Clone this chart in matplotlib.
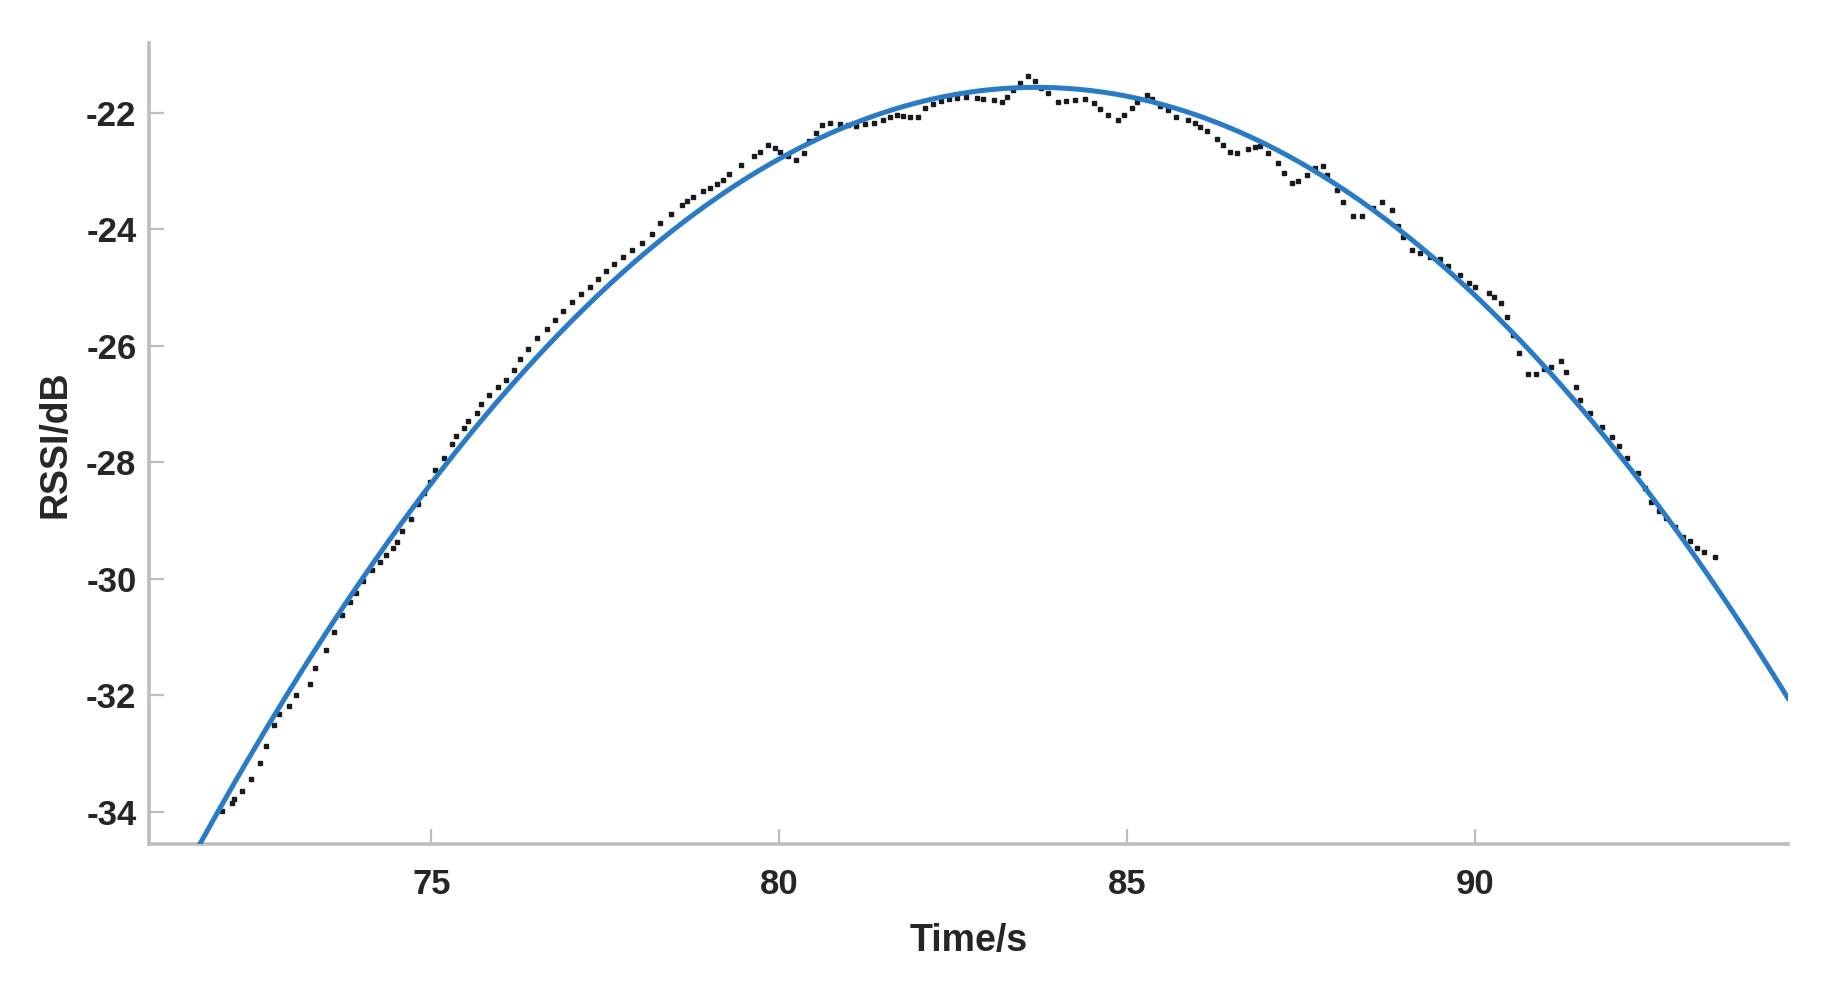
import numpy as np
import matplotlib
import matplotlib.pyplot as plt

matplotlib.use('Agg')

plt.rcParams['font.family'] = ['Liberation Sans', 'DejaVu Sans']
plt.rcParams['font.weight'] = 'bold'
plt.rcParams['axes.unicode_minus'] = False

time_s = [
    71.99, 72.13, 72.16, 72.28, 72.40, 72.53, 72.62, 72.73, 72.81, 72.95,
    73.06, 73.26, 73.32, 73.48, 73.60, 73.71, 73.83, 73.92, 74.02, 74.14,
    74.26, 74.35, 74.45, 74.51, 74.58, 74.70, 74.81, 74.89, 74.98, 75.05,
    75.18, 75.30, 75.36, 75.47, 75.53, 75.65, 75.71, 75.83, 75.96, 76.07,
    76.18, 76.28, 76.39, 76.52, 76.66, 76.77, 76.89, 77.02, 77.15, 77.28,
    77.40, 77.51, 77.63, 77.76, 77.89, 78.02, 78.17, 78.28, 78.44, 78.60,
    78.67, 78.76, 78.91, 79.01, 79.10, 79.19, 79.28, 79.45, 79.63, 79.72,
    79.84, 79.94, 80.01, 80.12, 80.24, 80.35, 80.43, 80.53, 80.61, 80.73,
    80.87, 80.99, 81.11, 81.23, 81.36, 81.49, 81.59, 81.69, 81.78, 81.88,
    82.00, 82.09, 82.21, 82.33, 82.44, 82.55, 82.69, 82.84, 82.93, 83.08,
    83.20, 83.27, 83.36, 83.46, 83.58, 83.68, 83.76, 83.87, 84.01, 84.12,
    84.25, 84.40, 84.52, 84.61, 84.73, 84.87, 84.95, 85.07, 85.14, 85.28,
    85.36, 85.48, 85.59, 85.71, 85.88, 85.98, 86.05, 86.15, 86.29, 86.38,
    86.48, 86.58, 86.74, 86.84, 86.91, 87.03, 87.17, 87.26, 87.37, 87.46,
    87.58, 87.70, 87.82, 87.87, 88.02, 88.11, 88.25, 88.37, 88.54, 88.66,
    88.81, 88.90, 88.97, 89.09, 89.21, 89.36, 89.50, 89.62, 89.79, 89.91,
    90.00, 90.20, 90.27, 90.37, 90.46, 90.55, 90.64, 90.76, 90.88, 90.99,
    91.10, 91.24, 91.31, 91.45, 91.51, 91.66, 91.82, 91.97, 92.07, 92.19,
    92.34, 92.44, 92.53, 92.65, 92.75, 92.87, 92.99, 93.09, 93.19, 93.29,
    93.45,
]
rssi_db = [
    -33.99, -33.86, -33.79, -33.65, -33.44, -33.17, -32.87, -32.52, -32.33, -32.19,
    -32.00, -31.81, -31.53, -31.23, -30.92, -30.62, -30.41, -30.24, -30.04, -29.85,
    -29.71, -29.60, -29.48, -29.37, -29.18, -28.97, -28.72, -28.53, -28.34, -28.14,
    -27.93, -27.69, -27.55, -27.42, -27.29, -27.15, -27.00, -26.85, -26.71, -26.59,
    -26.42, -26.23, -26.05, -25.86, -25.71, -25.56, -25.40, -25.25, -25.12, -24.99,
    -24.85, -24.72, -24.59, -24.47, -24.36, -24.24, -24.09, -23.90, -23.74, -23.58,
    -23.51, -23.45, -23.35, -23.30, -23.23, -23.15, -23.05, -22.90, -22.75, -22.67,
    -22.55, -22.61, -22.67, -22.74, -22.81, -22.69, -22.49, -22.35, -22.21, -22.17,
    -22.20, -22.21, -22.23, -22.19, -22.17, -22.12, -22.08, -22.04, -22.05, -22.07,
    -22.07, -21.92, -21.85, -21.80, -21.76, -21.75, -21.73, -21.75, -21.77, -21.78,
    -21.81, -21.73, -21.61, -21.49, -21.37, -21.45, -21.57, -21.66, -21.82, -21.79,
    -21.78, -21.77, -21.84, -21.94, -22.04, -22.13, -22.04, -21.92, -21.81, -21.69,
    -21.77, -21.89, -21.95, -22.07, -22.12, -22.18, -22.24, -22.32, -22.45, -22.55,
    -22.68, -22.69, -22.63, -22.59, -22.57, -22.69, -22.87, -23.03, -23.20, -23.17,
    -23.07, -22.95, -22.92, -23.07, -23.32, -23.53, -23.78, -23.78, -23.64, -23.53,
    -23.67, -23.94, -24.13, -24.36, -24.41, -24.47, -24.52, -24.64, -24.79, -24.93,
    -24.99, -25.09, -25.16, -25.27, -25.50, -25.82, -26.13, -26.49, -26.49, -26.40,
    -26.36, -26.26, -26.45, -26.71, -26.93, -27.16, -27.39, -27.57, -27.72, -27.93,
    -28.19, -28.45, -28.69, -28.84, -28.96, -29.12, -29.28, -29.35, -29.48, -29.54,
    -29.63,
]

x_ticks = [75, 80, 85, 90]
y_ticks = [-34, -32, -30, -28, -26, -24, -22]
x_range = (70.94, 94.5)
y_range = (-34.56, -20.81)

text_col = '#262626'
axis_col = '#bdbdbd'

fig = plt.figure(figsize=(18.44, 9.99), dpi=100)
ax = fig.add_axes([0.0808, 0.155, 0.8888, 0.8015])

# quadratic fit of the samples
coef = np.polyfit(time_s, rssi_db, 2)
t_fit = np.linspace(x_range[0], x_range[1], 400)
ax.plot(t_fit, np.polyval(coef, t_fit), color='#2a7bc6', lw=3.6, zorder=3)
ax.plot(time_s, rssi_db, ls='none', marker='s', ms=2.4, color='#1a1a1a', zorder=2)

ax.set_xlim(*x_range)
ax.set_ylim(*y_range)
ax.set_xticks(x_ticks)
ax.set_yticks(y_ticks)

for side in ['top', 'right']:
    ax.spines[side].set_visible(False)
for side in ['left', 'bottom']:
    ax.spines[side].set_color(axis_col)
    ax.spines[side].set_linewidth(2.6)

ax.tick_params(direction='in', length=11, width=1.6, color=axis_col,
               labelsize=25, labelcolor=text_col)
ax.tick_params(axis='x', pad=17)
ax.tick_params(axis='y', pad=9)

ax.set_xlabel('Time/s', fontsize=27, fontweight='bold', color=text_col)
ax.set_ylabel('RSSI/dB', fontsize=27, fontweight='bold', color=text_col)
ax.xaxis.set_label_coords(0.5, -0.098)
ax.yaxis.set_label_coords(-0.046, 0.5)

plt.savefig('out.png', dpi=100)
